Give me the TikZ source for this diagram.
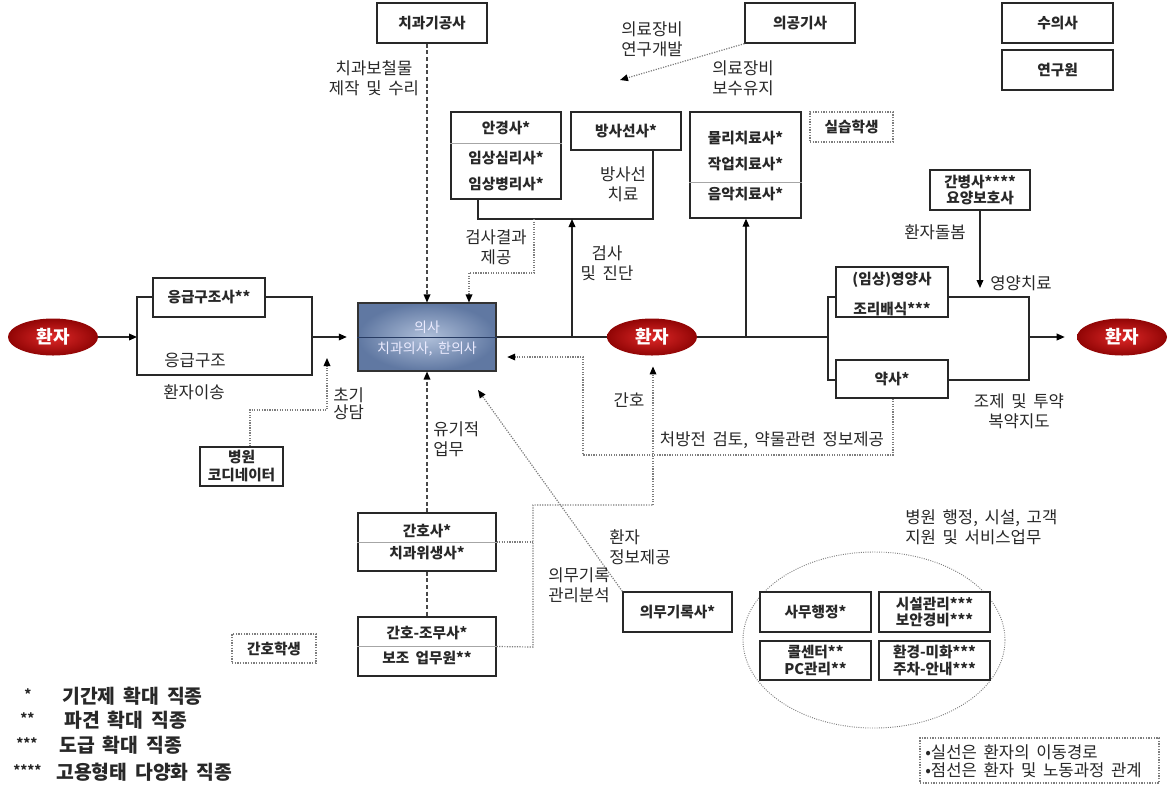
\documentclass[tikz,border=0pt]{standalone}
\usepackage{fontspec}
\setmainfont[WordSpace=1.8]{Noto Sans CJK KR}
\usetikzlibrary{arrows.meta,shapes.geometric}
\definecolor{docin}{RGB}{176,192,218}
\definecolor{docout}{RGB}{96,120,162}
\definecolor{docline}{RGB}{40,60,100}
\definecolor{ptin}{RGB}{222,40,40}
\definecolor{ptout}{RGB}{145,5,5}
\definecolor{ink}{RGB}{40,40,40}
\definecolor{dotc}{RGB}{125,125,125}
\begin{document}
\begin{tikzpicture}[x=0.75pt,y=-0.75pt,
 bw/.style={minimum width=#1*0.75pt},
 bh/.style={minimum height=#1*0.75pt},
 box/.style={draw=ink, line width=1pt, fill=white, inner sep=0pt, align=center, font=\bfseries\fontsize{11}{13}\selectfont, text=ink},
 dbox/.style={box, draw=dotc, densely dotted},
 btxt/.style={inner sep=0pt, font=\bfseries\fontsize{11}{13}\selectfont, text=ink},
 lbl/.style={inner sep=0pt, align=center, font=\fontsize{12.5}{15}\selectfont, text=ink},
 lbll/.style={lbl, align=left, anchor=west},
 patient/.style={ellipse, inner sep=0pt, minimum width=90*0.75pt, minimum height=37*0.75pt, inner color=ptin, outer color=ptout, text=white, font=\bfseries\fontsize{13.5}{15}\selectfont},
 flow/.style={draw=ink, line width=1pt},
 rel/.style={draw=dotc, line width=0.9pt, densely dotted},
 reld/.style={draw=ink!85, line width=0.9pt, densely dashed},
 tip/.style={-{Triangle[length=6pt,width=5pt,color=black]}},
 div/.style={draw=gray!70, line width=0.6pt},
 legs/.style={anchor=west, inner sep=0pt, font=\bfseries\fontsize{10}{12}\selectfont, text=ink},
 legt/.style={anchor=west, inner sep=0pt, font=\bfseries\fontsize{14.5}{16}\selectfont, text=ink},
]
\useasboundingbox (0,0) rectangle (1170,808);

% ---------- top row ----------
\node[box,bw=110,bh=40] (gisa) at (432,23) {치과기공사};
\node[box,bw=110,bh=40] (uigong) at (800,23) {의공기사};
\node[box,bw=111,bh=40] (suui) at (1057.5,23) {수의사};
\node[box,bw=111,bh=40] (yeongu) at (1057.5,70) {연구원};
\node[lbl] (l1) at (374,78) {치과보철물\\제작 및 수리};
\node[lbl] (l2) at (652,39) {의료장비\\연구개발};
\node[lbl] (l3) at (743,78) {의료장비\\보수유지};

% ---------- examination group ----------
\node[box,bw=110,bh=87] (angyeong) at (506,155.5) {};
\draw[div] ([yshift=-24pt]angyeong.north west) -- ([yshift=-24pt]angyeong.north east);
\node[btxt] (t1) at (506,128) {안경사*};
\node[btxt] (t2) at (506,158) {임상심리사*};
\node[btxt] (t3) at (506,184) {임상병리사*};
\node[box,bw=110,bh=38] (bangsa) at (626,131) {방사선사*};
\coordinate (q1) at (478,219);
\coordinate (q2) at (653,219);
\draw[flow] (angyeong.south -| q1) -- (q1) -- (q2) -- (bangsa.south -| q2);
\node[lbl] (l4) at (623,184) {방사선\\치료};

\node[box,bw=111,bh=106] (mulli) at (745.5,165) {};
\draw[div] ([yshift=-53.25pt]mulli.north west) -- ([yshift=-53.25pt]mulli.north east);
\node[btxt] (t4) at (745.5,138) {물리치료사*};
\node[btxt] (t5) at (745.5,164) {작업치료사*};
\node[btxt] (t6) at (745.5,194) {음악치료사*};

\node[dbox,bw=83,bh=30] (silseup) at (851.5,127) {실습학생};
\node[box,bw=100,bh=40,font=\bfseries\fontsize{11}{12.5}\selectfont] (ganbyeong) at (980,190) {간병사****\\요양보호사};

% ---------- doctor ----------
\node[draw=black!80, line width=0.8pt, inner color=docin, outer color=docout, bw=138, bh=68, inner sep=0pt] (doctor) at (427,337) {};
\draw[draw=docline, line width=0.7pt] (doctor.west) -- (doctor.east);
\node[inner sep=0pt, font=\fontsize{10.5}{12}\selectfont, text=white!92!blue] (dt1) at (427,327) {의사};
\node[inner sep=0pt, font=\fontsize{10.5}{12}\selectfont, text=white!92!blue] (dt2) at (427,349) {치과의사, 한의사};

% ---------- patients ----------
\node[patient] (p1) at (53,337) {환자};
\node[patient] (p2) at (652,337) {환자};
\node[patient] (p3) at (1122,337) {환자};

% main line
\coordinate (r0) at (828,337);
\draw[flow] (doctor.east) -- (p2.west);
\draw[flow] (p2.east) -- (r0);
\coordinate (a1) at (572,337);
\coordinate (a2) at (746,337);
\draw[flow,tip] (a1) -- (a1 |- q1);
\draw[flow,tip] (a2) -- (a2 |- mulli.south);
\node[lbl] (l5) at (607,263) {검사\\및 진단};

% top dashed / dotted relations
\draw[reld,tip] (gisa.south -| doctor.north) -- (doctor.north);
\coordinate (q3) at (534,219);
\coordinate (q4) at (469,273);
\draw[rel,tip] (q3) |- (q4) -- (q4 |- doctor.north);
\node[lbl] (l6) at (496,247) {검사결과\\제공};
\coordinate (u1) at (620,80);
\draw[rel,tip] (uigong.south west) -- (u1);

% ---------- left side ----------
\coordinate (b1) at (137,337);
\draw[flow,tip] (p1.east) -- (b1);
\node[box,bw=112,bh=39] (eung) at (209,297.5) {응급구조사**};
\coordinate (b2) at (137,297);
\coordinate (b3) at (312,297);
\coordinate (b4) at (312,375);
\coordinate (b5) at (137,375);
\draw[flow] (eung.west |- b2) -- (b2) -- (b5) -- (b4) -- (b3) -- (eung.east |- b3);
\coordinate (b6) at (312,337);
\draw[flow,tip,shorten >=8pt] (b6) -- (doctor.west);
\node[lbl] (l7) at (195,360) {응급구조};
\node[lbl] (l8) at (194,392) {환자이송};

\node[box,bw=83,bh=39,font=\bfseries\fontsize{11}{13.5}\selectfont] (coord) at (241.5,466.5) {병원\\코디네이터};
\coordinate (c1) at (250,410);
\coordinate (c2) at (327,410);
\coordinate (c3) at (327,358);
\draw[rel,tip] (coord.north -| c1) -- (c1) -- (c2) -- (c3);
\node[lbll,font=\fontsize{12.5}{13}\selectfont] (l9) at (333,404) {초기\\상담};

% ---------- right side ----------
\node[box,bw=112,bh=50] (yeong) at (892,292) {};
\node[btxt] (t7) at (892,280) {(임상)영양사};
\node[btxt] (t8) at (892,309) {조리배식***};
\node[box,bw=112,bh=38] (yaksa) at (892,379) {약사*};
\coordinate (r1) at (828,297);
\coordinate (r2) at (828,380);
\coordinate (r3) at (1029,297);
\coordinate (r4) at (1029,380);
\coordinate (r5) at (1029,337);
\draw[flow] (yeong.west |- r1) -- (r1) -- (r2) -- (yaksa.west |- r2);
\draw[flow] (yeong.east |- r3) -- (r3) -- (r4) -- (yaksa.east |- r4);
\draw[flow,tip,shorten >=9pt] (r5) -- (p3.west);
\coordinate (g1) at (980,288);
\draw[flow,tip] (ganbyeong.south) -- (g1);
\node[lbl] (l10) at (935,232) {환자돌봄};
\node[lbl] (l11) at (1021,283) {영양치료};
\node[lbl] (l12) at (1019,411) {조제 및 투약\\복약지도};

% ---------- nursing ----------
\node[box,bw=138,bh=58] (ganho) at (427,542) {};
\draw[div] (ganho.west) -- (ganho.east);
\node[btxt] (t9) at (427,531) {간호사*};
\node[btxt] (t10) at (427,553) {치과위생사*};
\node[box,bw=138,bh=59] (jomu) at (427,646.5) {};
\draw[div] (jomu.west) -- (jomu.east);
\node[btxt] (t11) at (427,633) {간호-조무사*};
\node[btxt] (t12) at (427,658) {보조 업무원**};
\draw[reld,tip] (ganho.north) -- (doctor.south);
\draw[reld] (ganho.south) -- (jomu.north);
\node[lbll] (l13) at (433,439) {유기적\\업무};
\coordinate (n1) at (533,542);
\coordinate (n2) at (533,647);
\coordinate (n3) at (533,505);
\coordinate (n4) at (653,505);
\draw[rel] (ganho.east) -- (n1);
\draw[rel] (jomu.east) -- (n2) -- (n3) -- (n4);
\draw[rel,tip,shorten >=8pt] (n4) -- (n4 |- p2.south);
\node[lbl] (l14) at (629,400) {간호};

% pharmacist info
\coordinate (y1) at (893,455);
\coordinate (y2) at (583,455);
\coordinate (y3) at (583,357);
\draw[rel,tip,shorten >=8pt] (yaksa.south -| y1) -- (y1) -- (y2) -- (y3) -- (y3 -| doctor.east);
\node[lbl] (l15) at (772,440) {처방전 검토, 약물관련 정보제공};

% medical records
\node[box,bw=109,bh=40] (uimu) at (677.5,612) {의무기록사*};
\coordinate (m1) at (478,390);
\draw[rel,tip] (uimu.north west) -- (m1);
\node[lbll] (l16) at (609,547) {환자\\정보제공};
\node[lbll] (l17) at (548,585.5) {의무기록\\관리분석};

\node[dbox,bw=84,bh=29] (ghs) at (274,648.5) {간호학생};

% ---------- services ----------
\node[ellipse, draw=dotc, densely dotted, line width=0.7pt, bw=262, bh=176, inner sep=0pt] (svc) at (874,640) {};
\node[box,bw=111,bh=40] (samu) at (815.5,612) {사무행정*};
\node[box,bw=111,bh=40,font=\bfseries\fontsize{11}{12.5}\selectfont] (siseol) at (934.5,612) {시설관리***\\보안경비***};
\node[box,bw=111,bh=39,font=\bfseries\fontsize{11}{12.5}\selectfont] (call) at (815.5,660.5) {콜센터**\\PC관리**};
\node[box,bw=111,bh=39,font=\bfseries\fontsize{11}{12.5}\selectfont] (hwan) at (934.5,660.5) {환경-미화***\\주차-안내***};
\node[lbll] (l18) at (905,527) {병원 행정, 시설, 고객\\지원 및 서비스업무};

% ---------- legends ----------
\node[dbox,bw=239,bh=45] (lgd) at (1039.5,760.5) {};
\node[anchor=west, inner sep=0pt, align=left, font=\fontsize{12.5}{13.5}\selectfont, text=ink] (lgdt) at (925,761) {•실선은 환자의 이동경로\\•점선은 환자 및 노동과정 관계};

\node[legs] (k1s) at (24,694) {*};
\node[legt] (k1) at (62,696) {기간제 확대 직종};
\node[legs] (k2s) at (20,718) {**};
\node[legt] (k2) at (64,720) {파견 확대 직종};
\node[legs] (k3s) at (16,743) {***};
\node[legt] (k3) at (59,745) {도급 확대 직종};
\node[legs] (k4s) at (13,770) {****};
\node[legt] (k4) at (56,772) {고용형태 다양화 직종};
\end{tikzpicture}
\end{document}
